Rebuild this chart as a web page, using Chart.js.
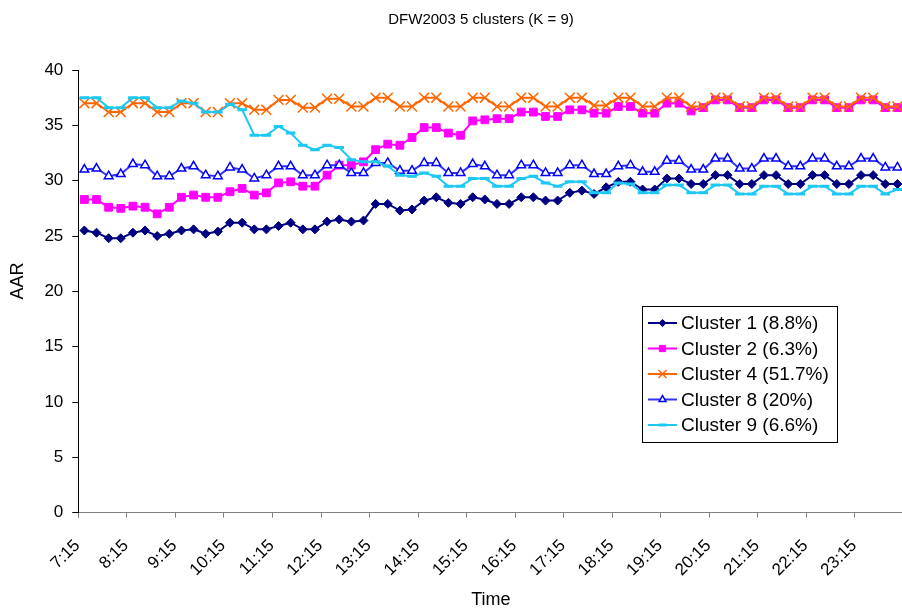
<!DOCTYPE html>
<html>
<head>
<meta charset="utf-8">
<title>DFW2003 5 clusters</title>
<script src="https://cdn.jsdelivr.net/npm/chart.js@4.4.1/dist/chart.umd.min.js"></script>
<style>
  html, body { margin: 0; padding: 0; background: #fff; overflow: hidden; }
  #wrap { width: 912px; height: 611px; }
</style>
</head>
<body>
<div id="wrap"><canvas id="aarChart" width="912" height="611"></canvas></div>
<script>
// 15 minute slots, 7:15 .. 0:00
const timeLabels = [
    "7:15", "7:30", "7:45", "8:00", "8:15", "8:30", "8:45", "9:00",
    "9:15", "9:30", "9:45", "10:00", "10:15", "10:30", "10:45", "11:00",
    "11:15", "11:30", "11:45", "12:00", "12:15", "12:30", "12:45", "13:00",
    "13:15", "13:30", "13:45", "14:00", "14:15", "14:30", "14:45", "15:00",
    "15:15", "15:30", "15:45", "16:00", "16:15", "16:30", "16:45", "17:00",
    "17:15", "17:30", "17:45", "18:00", "18:15", "18:30", "18:45", "19:00",
    "19:15", "19:30", "19:45", "20:00", "20:15", "20:30", "20:45", "21:00",
    "21:15", "21:30", "21:45", "22:00", "22:15", "22:30", "22:45", "23:00",
    "23:15", "23:30", "23:45", "0:00"
];

const cluster1 = [
    25.5, 25.3, 24.8, 24.8, 25.3, 25.5, 25.0, 25.2,
    25.5, 25.6, 25.2, 25.4, 26.2, 26.2, 25.6, 25.6,
    25.9, 26.2, 25.6, 25.6, 26.3, 26.5, 26.3, 26.4,
    27.9, 27.9, 27.3, 27.4, 28.2, 28.5, 28.0, 27.9,
    28.5, 28.3, 27.9, 27.9, 28.5, 28.5, 28.2, 28.2,
    28.9, 29.1, 28.8, 29.4, 29.9, 29.9, 29.2, 29.2,
    30.2, 30.2, 29.7, 29.7, 30.5, 30.5, 29.7, 29.7,
    30.5, 30.5, 29.7, 29.7, 30.5, 30.5, 29.7, 29.7,
    30.5, 30.5, 29.7, 29.7
];
const cluster2 = [
    28.3, 28.3, 27.6, 27.5, 27.7, 27.6, 27.0, 27.6,
    28.5, 28.7, 28.5, 28.5, 29.0, 29.3, 28.7, 28.9,
    29.8, 29.9, 29.5, 29.5, 30.5, 31.4, 31.4, 31.7,
    32.8, 33.3, 33.2, 33.9, 34.8, 34.8, 34.3, 34.1,
    35.4, 35.5, 35.6, 35.6, 36.2, 36.2, 35.8, 35.8,
    36.4, 36.4, 36.1, 36.1, 36.7, 36.7, 36.1, 36.1,
    37.0, 37.0, 36.3, 36.6, 37.3, 37.3, 36.6, 36.6,
    37.3, 37.3, 36.6, 36.6, 37.3, 37.3, 36.6, 36.6,
    37.3, 37.3, 36.6, 36.6
];
const cluster4 = [
    37.0, 37.0, 36.2, 36.2, 37.0, 37.0, 36.2, 36.2,
    37.0, 37.0, 36.2, 36.2, 37.0, 37.0, 36.4, 36.4,
    37.3, 37.3, 36.6, 36.6, 37.4, 37.4, 36.7, 36.7,
    37.5, 37.5, 36.7, 36.7, 37.5, 37.5, 36.7, 36.7,
    37.5, 37.5, 36.7, 36.7, 37.5, 37.5, 36.7, 36.7,
    37.5, 37.5, 36.8, 36.8, 37.5, 37.5, 36.7, 36.7,
    37.5, 37.5, 36.7, 36.7, 37.5, 37.5, 36.7, 36.7,
    37.5, 37.5, 36.7, 36.7, 37.5, 37.5, 36.7, 36.7,
    37.5, 37.5, 36.7, 36.7
];
const cluster8 = [
    31.0, 31.1, 30.4, 30.6, 31.5, 31.4, 30.4, 30.4,
    31.1, 31.3, 30.5, 30.4, 31.2, 31.0, 30.2, 30.5,
    31.3, 31.3, 30.5, 30.5, 31.4, 31.4, 30.7, 30.7,
    31.6, 31.6, 30.9, 30.9, 31.6, 31.6, 30.7, 30.7,
    31.5, 31.3, 30.5, 30.5, 31.4, 31.4, 30.7, 30.7,
    31.4, 31.4, 30.6, 30.6, 31.3, 31.4, 30.8, 30.8,
    31.8, 31.8, 31.0, 31.0, 32.0, 32.0, 31.1, 31.1,
    32.0, 32.0, 31.3, 31.3, 32.0, 32.0, 31.3, 31.3,
    32.0, 32.0, 31.2, 31.2
];
const cluster9 = [
    37.5, 37.5, 36.6, 36.6, 37.5, 37.5, 36.6, 36.6,
    37.2, 37.0, 36.2, 36.2, 36.9, 36.4, 34.1, 34.1,
    34.9, 34.3, 33.2, 32.8, 33.2, 33.0, 31.9, 31.7,
    31.7, 31.3, 30.5, 30.4, 30.7, 30.4, 29.5, 29.5,
    30.2, 30.2, 29.5, 29.5, 30.2, 30.4, 29.8, 29.5,
    29.9, 29.9, 28.9, 28.9, 29.8, 29.7, 28.9, 28.9,
    29.6, 29.6, 28.9, 28.9, 29.6, 29.6, 28.8, 28.8,
    29.5, 29.5, 28.8, 28.8, 29.5, 29.5, 28.8, 28.8,
    29.5, 29.5, 28.8, 29.2
];

const seriesNames = ["Cluster 1 (8.8%)", "Cluster 2 (6.3%)", "Cluster 4 (51.7%)", "Cluster 8 (20%)", "Cluster 9 (6.6%)"];
const chartTitle = "DFW2003 5 clusters (K = 9)";
const yTitle = "AAR";
const xTitle = "Time";

const FONT = '"Liberation Sans", Arial, sans-serif';

// title, y title and the boxed legend inside the plot
const overlayPlugin = {
    id: "overlay",
    afterDraw(chart) {
        const ctx = chart.ctx;
        ctx.save();
        ctx.fillStyle = "#000";
        ctx.textAlign = "center";
        ctx.textBaseline = "middle";
        ctx.font = "15px " + FONT;
        ctx.fillText(chartTitle, 481, 20);

        ctx.save();
        ctx.font = "18px " + FONT;
        ctx.translate(18, 281);
        ctx.rotate(-Math.PI / 2);
        ctx.fillText(yTitle, 0, 0);
        ctx.restore();

        // legend box
        ctx.fillStyle = "#fff";
        ctx.fillRect(642.5, 306.5, 195, 136);
        ctx.strokeStyle = "#000";
        ctx.lineWidth = 1;
        ctx.strokeRect(642.5, 306.5, 195, 136);

        ctx.font = "19px " + FONT;
        ctx.textAlign = "left";
        chart.data.datasets.forEach((ds, i) => {
            const y = 323 + i * 25.5;
            ctx.strokeStyle = ds.borderColor;
            ctx.lineWidth = 2;
            ctx.beginPath();
            ctx.moveTo(648, y);
            ctx.lineTo(677, y);
            ctx.stroke();

            ctx.fillStyle = ds.pointBackgroundColor;
            ctx.strokeStyle = ds.pointBorderColor;
            ctx.lineWidth = ds.pointBorderWidth;
            Chart.helpers.drawPoint(ctx, {
                pointStyle: ds.pointStyle,
                radius: ds.pointRadius * 0.8,
                borderWidth: ds.pointBorderWidth,
                rotation: 0
            }, 662.5, y);

            ctx.fillStyle = "#000";
            ctx.fillText(ds.label, 681, y + 1);
        });
        ctx.restore();
    }
};

const seriesStyle = [
    { data: cluster1, line: "#000080", pt: "rectRot", r: 4.5, fill: "#000080", edge: "#000080", bw: 1 },
    { data: cluster2, line: "#FF00FF", pt: "rect", r: 5.5, fill: "#FF00FF", edge: "#FF00FF", bw: 1 },
    { data: cluster4, line: "#FF6600", pt: "crossRot", r: 7, fill: "#FF6600", edge: "#FF6600", bw: 1.5 },
    { data: cluster8, line: "#3333FF", pt: "triangle", r: 5, fill: "#FFFFFF", edge: "#0000FF", bw: 1.5 },
    { data: cluster9, line: "#1EC8F5", pt: "line", r: 4.8, fill: "#1EC8F5", edge: "#1EC8F5", bw: 3 }
];

const datasets = seriesStyle.map((s, i) => ({
    label: seriesNames[i],
    data: s.data,
    borderColor: s.line,
    borderWidth: 2,
    pointStyle: s.pt,
    pointRadius: s.r,
    pointBackgroundColor: s.fill,
    pointBorderColor: s.edge,
    pointBorderWidth: s.bw,
    tension: 0,
    order: 5 - i
}));

const ctx = document.getElementById("aarChart").getContext("2d");
new Chart(ctx, {
    type: "line",
    data: { labels: timeLabels, datasets: datasets },
    options: {
        responsive: false,
        animation: false,
        devicePixelRatio: 1,
        layout: { padding: { top: 70, right: 3, bottom: 0, left: 0 } },
        plugins: {
            legend: { display: false },
            title: { display: false },
            tooltip: { enabled: false }
        },
        scales: {
            x: {
                offset: true,
                border: { color: "#808080", width: 1 },
                grid: {
                    offset: true,
                    drawOnChartArea: false,
                    drawTicks: true,
                    tickLength: 5,
                    color: c => (c.index % 4 === 0 ? "#808080" : "rgba(0,0,0,0)")
                },
                ticks: {
                    autoSkip: false,
                    minRotation: 45,
                    maxRotation: 45,
                    padding: 18,
                    labelOffset: -7,
                    color: "#000",
                    font: { family: FONT, size: 17 },
                    callback: function (val, idx) {
                        return idx % 4 === 0 ? this.getLabelForValue(val) : "";
                    }
                },
                title: {
                    display: true,
                    text: xTitle,
                    color: "#000",
                    font: { family: FONT, size: 18 },
                    padding: { top: 0, bottom: 0 }
                },
                afterFit: s => {
                    s.height = 98.3;
                    s.paddingLeft = 0;
                    s.paddingRight = 0;
                }
            },
            y: {
                min: 0,
                max: 40,
                border: { color: "#000", width: 1 },
                grid: { drawOnChartArea: false, drawTicks: true, tickLength: 6, color: "#000" },
                ticks: {
                    stepSize: 5,
                    padding: 9,
                    color: "#000",
                    font: { family: FONT, size: 17 }
                },
                afterFit: s => { s.width = 78.3; }
            }
        }
    },
    plugins: [overlayPlugin]
});
</script>
</body>
</html>
